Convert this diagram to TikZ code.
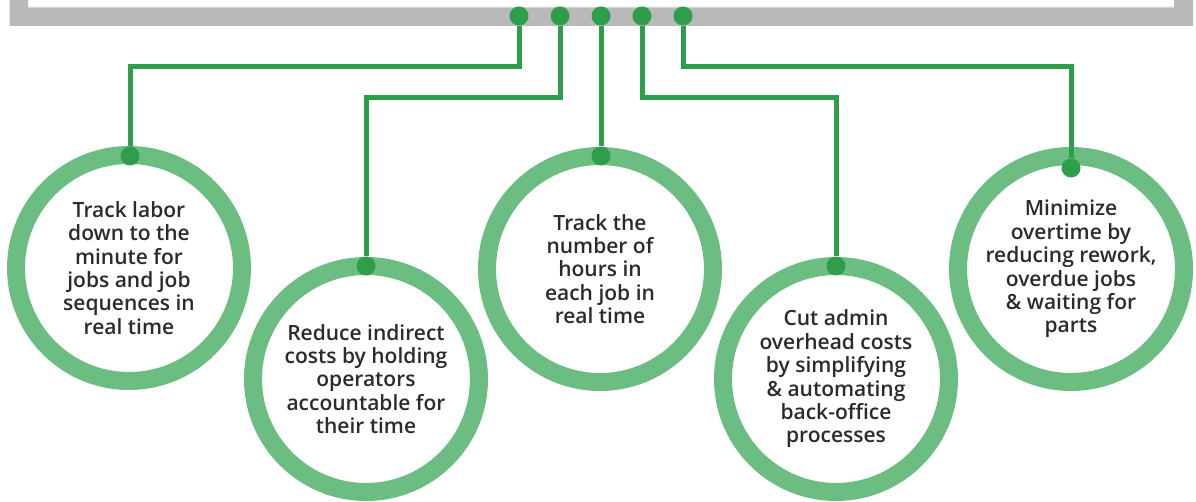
\documentclass[tikz,border=0pt]{standalone}
\usepackage{fontspec}
\setmainfont{Open Sans}
\newfontfamily\semibold{Open Sans Semibold}
\definecolor{ringgreen}{HTML}{6CBD81}
\definecolor{wiregreen}{HTML}{2E9E4A}
\definecolor{framegray}{HTML}{B9B9B9}
\definecolor{textgray}{HTML}{2B2B2B}
\begin{document}
\begin{tikzpicture}[x=1pt,y=-1pt]
		\tikzset{ring/.style = {shape=circle, draw=ringgreen, line width=18pt, minimum size=226pt, inner sep=0pt, align=center, text=textgray, font=\semibold\fontsize{21}{23.4}\selectfont},
			dot/.style = {shape=circle, fill=wiregreen, inner sep=0pt, minimum size=19pt},
			wire/.style = {draw=wiregreen, line width=5pt}}

		\useasboundingbox (0,0) rectangle (1196,502);

		% frame at the top
		\fill[framegray] (9.5,0) -- (28,0) -- (28,7) -- (1174,7) -- (1174,0) -- (1193,0) -- (1193,26) -- (9.5,26) -- cycle;
		\draw[framegray!60, line width=1pt] (28,7.5) -- (1174,7.5);

		\node[ring] (C_1) at (129,268) {Track labor\\down to the\\minute for\\jobs and job\\sequences in\\real time};
		\node[ring] (C_2) at (366,379) {Reduce indirect\\costs by holding\\operators\\accountable for\\their time};
		\node[ring] (C_3) at (600,269) {Track the\\number of\\hours in\\each job in\\real time};
		\node[ring] (C_4) at (836,379) {Cut admin\\overhead costs\\by simplifying\\\& automating\\back-office\\processes};
		\node[ring] (C_5) at (1071,269) {Minimize\\overtime by\\reducing rework,\\overdue jobs\\\& waiting for\\parts};

		\node[dot] (D_1) at (519,16) {};
		\node[dot] (D_2) at (560,16) {};
		\node[dot] (D_3) at (601,16) {};
		\node[dot] (D_4) at (642,16) {};
		\node[dot] (D_5) at (683,16) {};

		\node[dot] (T_1) at (130,156) {};
		\node[dot] (T_2) at (366,266) {};
		\node[dot] (T_3) at (601,156) {};
		\node[dot] (T_4) at (836,266) {};
		\node[dot] (T_5) at (1071,168) {};

		\coordinate (B_1) at (130,67);
		\coordinate (B_2) at (366,98);
		\coordinate (B_4) at (836,98);
		\coordinate (B_5) at (1071,67);

		\draw[wire] (D_1) |- (B_1) -- (T_1);
		\draw[wire] (D_2) |- (B_2) -- (T_2);
		\draw[wire] (D_3) -- (T_3);
		\draw[wire] (D_4) |- (B_4) -- (T_4);
		\draw[wire] (D_5) |- (B_5) -- (T_5);

	\end{tikzpicture}
\end{document}
